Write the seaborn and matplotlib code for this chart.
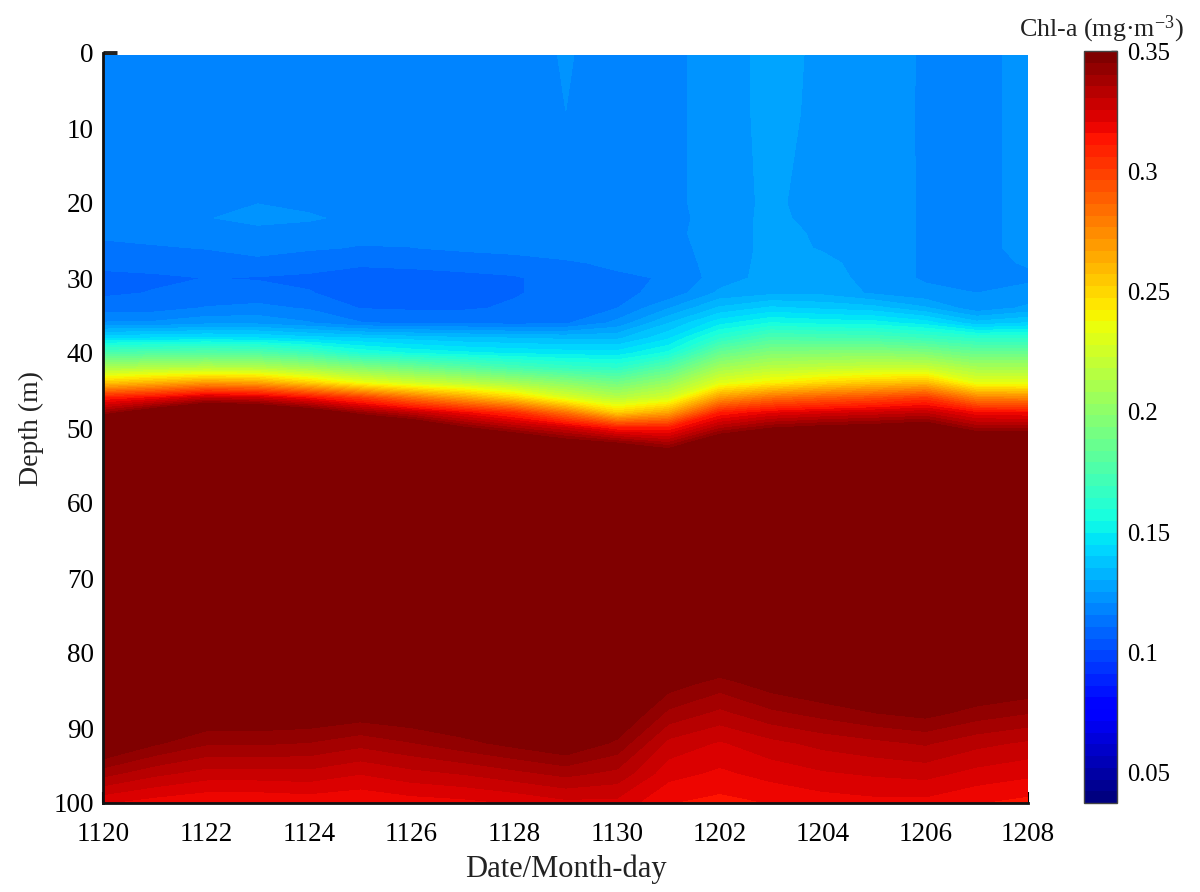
import numpy as np
import matplotlib
matplotlib.use("Agg")
import matplotlib.pyplot as plt
from matplotlib.cm import ScalarMappable
from matplotlib.colors import BoundaryNorm
import seaborn as sns

# Dias de 1120 a 1208 (19 perfis) e profundidades em metros
dias = list(range(19))
rotulos_dias = ["1120", "1122", "1124", "1126", "1128", "1130", "1202", "1204", "1206", "1208"]
profundidades = [0.3, 8, 20, 22, 24, 26, 28, 30, 32, 34, 36, 38, 40, 42, 44, 46, 48, 50, 52, 54, 80, 84, 88, 92, 96, 100]
ticks_barra = [0.05, 0.1, 0.15, 0.2, 0.25, 0.3, 0.35]
rotulos_barra = ["0.05", "0.1", "0.15", "0.2", "0.25", "0.3", "0.35"]

chl_00 = [.1195, .1195, .1195, .1195, .1195, .1195, .1195, .1195, .1195, .1207, .1195, .1195, .1222, .1275, .1242, .1235, .1198, .1195, .1215]
chl_08 = [.1195, .1195, .1195, .1195, .1195, .1195, .1195, .1195, .1195, .1205, .1195, .1195, .1222, .1275, .1238, .1232, .1198, .1195, .1215]
chl_20 = [.1192, .1192, .1192, .1204, .1192, .1192, .1192, .1192, .1192, .1195, .1195, .1195, .1222, .1268, .1222, .1235, .1198, .1195, .1215]
chl_22 = [.1190, .1192, .1202, .1222, .1212, .1190, .1190, .1190, .1190, .1190, .1190, .1192, .1222, .1270, .1230, .1235, .1198, .1195, .1215]
chl_24 = [.1165, .1172, .1178, .1187, .1180, .1170, .1175, .1182, .1190, .1192, .1195, .1195, .1222, .1270, .1246, .1235, .1198, .1195, .1215]
chl_26 = [.1146, .1152, .1158, .1170, .1162, .1153, .1155, .1165, .1172, .1178, .1182, .1190, .1222, .1270, .1250, .1235, .1198, .1195, .1215]
chl_28 = [.1120, .1125, .1135, .1145, .1128, .1113, .1118, .1125, .1135, .1150, .1165, .1178, .1225, .1272, .1265, .1235, .1198, .1195, .1208]
chl_30 = [.1095, .1100, .1108, .1104, .1098, .1090, .1090, .1095, .1102, .1130, .1148, .1160, .1228, .1275, .1285, .1228, .1200, .1195, .1198]
chl_32 = [.1100, .1110, .1118, .1125, .1110, .1088, .1088, .1094, .1103, .1125, .1145, .1170, .1265, .1290, .1290, .1245, .1215, .1205, .1218]
chl_34 = [.1130, .1135, .1160, .1170, .1150, .1105, .1100, .1100, .1115, .1130, .1155, .1250, .1360, .1410, .1390, .1370, .1310, .1220, .1265]
chl_36 = [.1210, .1215, .1240, .1240, .1210, .1160, .1150, .1150, .1140, .1150, .1220, .1350, .1480, .1550, .1530, .1520, .1475, .1370, .1405]
chl_38 = [.1440, .1450, .1460, .1450, .1420, .1400, .1380, .1360, .1350, .1340, .1340, .1440, .1630, .1755, .1740, .1730, .1685, .1630, .1630]
chl_40 = [.1750, .1770, .1790, .1770, .1700, .1590, .1540, .1510, .1490, .1475, .1470, .1560, .1855, .1960, .1970, .1980, .1950, .1860, .1860]
chl_42 = [.2110, .2145, .2160, .2145, .2070, .1970, .1890, .1810, .1730, .1675, .1640, .1800, .2080, .2166, .2195, .2220, .2220, .2100, .2100]
chl_44 = [.2550, .2620, .2700, .2670, .2525, .2360, .2260, .2180, .2090, .1990, .1900, .2035, .2310, .2410, .2490, .2550, .2590, .2330, .2330]
chl_46 = [.3110, .3170, .3290, .3260, .3150, .3010, .2830, .2680, .2520, .2300, .2160, .2270, .2700, .2840, .2900, .2950, .3020, .2776, .2760]
chl_48 = [.3406, .3580, .3750, .3700, .3580, .3416, .3300, .3180, .3060, .2830, .2530, .2665, .3110, .3200, .3240, .3270, .3300, .3170, .3160]
chl_50 = [.3800, .3900, .4000, .4000, .3900, .3750, .3650, .3470, .3355, .3260, .3110, .3110, .3345, .3450, .3490, .3510, .3550, .3390, .3390]
chl_52 = [.4100, .4150, .4200, .4200, .4100, .4000, .3900, .3800, .3650, .3520, .3450, .3360, .3600, .3700, .3750, .3800, .3800, .3650, .3650]
chl_54 = [.4300, .4300, .4400, .4400, .4300, .4200, .4100, .4000, .3900, .3800, .3700, .3600, .3900, .4000, .4000, .4000, .4000, .3900, .3900]
chl_80 = [.3800, .3780, .3750, .3750, .3740, .3720, .3740, .3760, .3790, .3800, .3760, .3600, .3540, .3600, .3640, .3660, .3680, .3640, .3620]
chl_84 = [.3650, .3620, .3590, .3590, .3580, .3560, .3580, .3600, .3630, .3640, .3600, .3480, .3430, .3480, .3510, .3530, .3550, .3520, .3500]
chl_88 = [.3570, .3540, .3510, .3510, .3505, .3485, .3500, .3520, .3550, .3565, .3525, .3390, .3340, .3390, .3420, .3450, .3470, .3430, .3404]
chl_92 = [.3536, .3460, .3410, .3410, .3400, .3370, .3400, .3435, .3470, .3505, .3440, .3290, .3250, .3290, .3320, .3340, .3360, .3320, .3296]
chl_96 = [.3374, .3320, .3285, .3285, .3290, .3260, .3290, .3310, .3340, .3370, .3340, .3226, .3197, .3226, .3250, .3264, .3274, .3240, .3220]
chl_100 = [.3210, .3180, .3160, .3160, .3170, .3160, .3180, .3190, .3210, .3240, .3240, .3160, .3140, .3160, .3180, .3190, .3190, .3160, .3140]

sns.set_theme(style="white")
plt.rcParams["font.family"] = ["Liberation Serif", "DejaVu Serif"]
plt.rcParams["mathtext.fontset"] = "custom"
plt.rcParams["mathtext.rm"] = "Liberation Serif"
plt.rcParams["mathtext.it"] = "Liberation Serif"

chl = np.array([chl_00, chl_08, chl_20, chl_22, chl_24, chl_26, chl_28, chl_30, chl_32, chl_34, chl_36, chl_38, chl_40,
                chl_42, chl_44, chl_46, chl_48, chl_50, chl_52, chl_54, chl_80, chl_84, chl_88, chl_92, chl_96, chl_100])

# jet de 64 cores, como na barra original
mapa = plt.get_cmap("jet").resampled(64)
niveis = np.linspace(0.0375, 0.35, 65)

fig = plt.figure(figsize=(12, 8.92), dpi=100)
ax = fig.add_axes([103.5 / 1200, 1 - 803 / 892, 924.5 / 1200, 750 / 892])
ax.contourf(dias, profundidades, chl, levels=niveis, cmap=mapa, extend="max")
ax.set_xlim(0, 18)
ax.set_ylim(100, 0)

# Os ticks ficam por baixo do contorno, só as pontas aparecem
ax.set_axisbelow(True)
ax.set_xticks(dias[::2])
ax.set_xticklabels(rotulos_dias)
ax.set_yticks(range(0, 101, 10))
ax.tick_params(axis="x", direction="in", length=8, width=1.5, color="black", labelsize=19.5, labelcolor="black", pad=14, bottom=True)
ax.tick_params(axis="y", direction="in", length=10, width=1.5, color="#222222", labelsize=19.5, labelcolor="black", pad=7, left=True)
for t in ax.xaxis.get_major_ticks() + ax.yaxis.get_major_ticks():
    t.tick1line.set_clip_on(False)
# so o tick do zero e mais grosso
ax.yaxis.get_major_ticks()[0].tick1line.set_markeredgewidth(3.5)
ax.set_xlabel("Date/Month-day", fontsize=22, color="#222222", labelpad=5)
ax.set_ylabel("Depth (m)", fontsize=20, color="#222222", labelpad=7)
sns.despine(ax=ax, top=True, right=True)
for lado in ["left", "bottom"]:
    ax.spines[lado].set_color("#111111")
    ax.spines[lado].set_linewidth(2)

# Barra de cores
cax = fig.add_axes([1084 / 1200, 1 - 803 / 892, 33 / 1200, 752 / 892])
barra = fig.colorbar(ScalarMappable(BoundaryNorm(niveis, mapa.N), mapa), cax=cax, spacing="proportional", drawedges=False)
barra.set_ticks(ticks_barra)
barra.set_ticklabels(rotulos_barra)
barra.ax.minorticks_off()
barra.ax.tick_params(direction="in", length=4, width=1, color="#222222", labelsize=17.7, labelcolor="black", pad=7, right=True)
barra.outline.set_edgecolor("#444444")
barra.outline.set_linewidth(1)

fig.text(1101 / 1200, 1 - 36 / 892, "Chl-a (mg·m$^{-3}$)", fontsize=18.7, color="#222222", ha="center", va="baseline")

plt.savefig("out.png", dpi=100)
